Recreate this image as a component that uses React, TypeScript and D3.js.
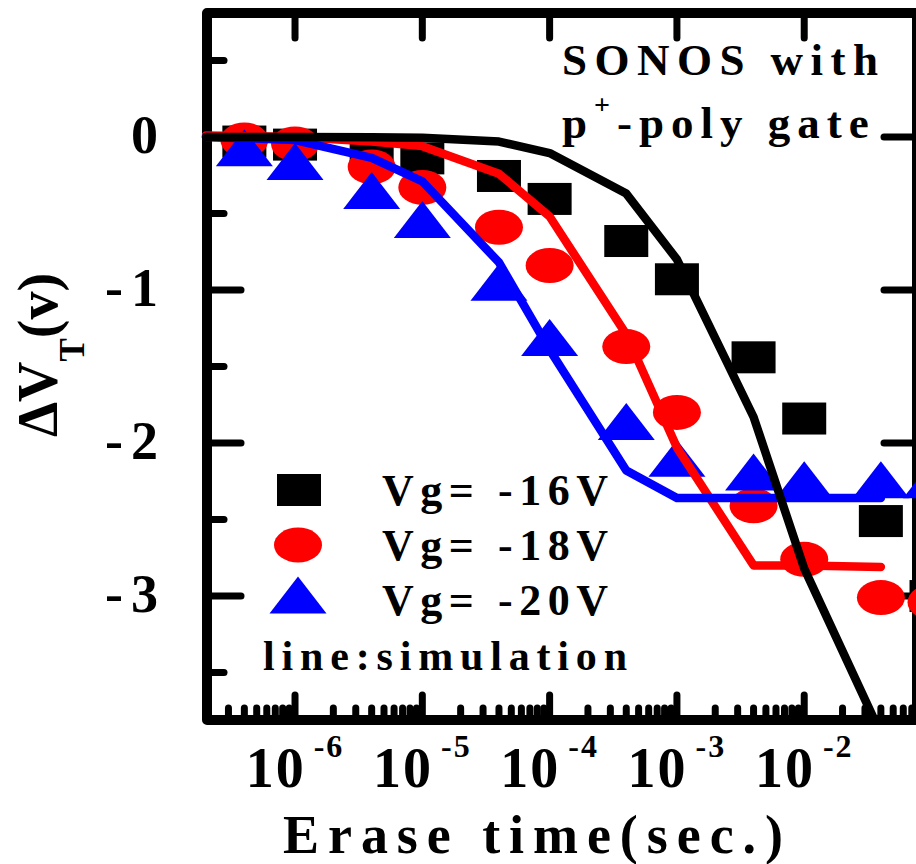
import { useEffect, useRef } from 'react';
import * as d3 from 'd3';

// erase time (s) of the measured points
const pointTimes = [4e-7, 1e-6, 4e-6, 1e-5, 4e-5, 1e-4, 4e-4, 1e-3, 4e-3, 1e-2, 4e-2, 1e-1];
// measured ΔVT (V)
const vg16Measured = [-0.03, -0.05, -0.12, -0.14, -0.255, -0.405, -0.68, -0.93, -1.44, -1.84, -2.51, -3.0];
const vg18Measured = [-0.02, -0.046, -0.196, -0.33, -0.59, -0.84, -1.37, -1.8, -2.41, -2.76, -3.01, -3.04];
const vg20Measured = [-0.07, -0.16, -0.35, -0.54, -0.95, -1.31, -1.86, -2.1, -2.19, -2.24, -2.24, -2.24];

// simulation curves
const simTimes = [2e-7, 1e-6, 4e-6, 1e-5, 4e-5, 1e-4, 4e-4, 1e-3, 4e-3, 1e-2, 4e-2];
const vg16Sim = [0, 0, -0.002, -0.005, -0.03, -0.105, -0.37, -0.8, -1.83, -2.82, -3.9];
const vg18Sim = [0.01, 0, -0.03, -0.06, -0.24, -0.52, -1.29, -2.03, -2.8, -2.8, -2.81];
const vg20Sim = [0, -0.02, -0.137, -0.29, -0.82, -1.39, -2.18, -2.36, -2.36, -2.36, -2.36];

const legendLabels = ['Vg= -16V', 'Vg= -18V', 'Vg= -20V'];

const xMajorTicks = [1e-6, 1e-5, 1e-4, 1e-3, 1e-2];
const xTickExponents = ['-6', '-5', '-4', '-3', '-2'];
const yMajorTicks = [0, -1, -2, -3];
const yMinorTicks = [0.5, -0.5, -1.5, -2.5, -3.5];

const X_DOMAIN: [number, number] = [2.035e-7, 7.69e-2];
const Y_DOMAIN: [number, number] = [-3.81, 0.81];

const W = 916;
const H = 864;
const PLOT = { left: 207, top: 13, right: 917, bottom: 720 };
const FONT = '"Liberation Serif", "Times New Roman", serif';

export default function App() {
  const svgRef = useRef<SVGSVGElement>(null);

  useEffect(() => {
    const svg = d3.select(svgRef.current);
    svg.selectAll('*').remove();

    const x = d3.scaleLog().domain(X_DOMAIN).range([PLOT.left, PLOT.right]);
    const y = d3.scaleLinear().domain(Y_DOMAIN).range([PLOT.bottom, PLOT.top]);

    svg.append('defs').append('clipPath').attr('id', 'plot-clip')
      .append('rect').attr('x', 0).attr('y', 0).attr('width', W).attr('height', PLOT.bottom - 5);

    // frame
    const axes = svg.append('g').attr('stroke', '#000').attr('stroke-linecap', 'round').attr('fill', 'none');
    axes.append('rect')
      .attr('x', PLOT.left).attr('y', PLOT.top)
      .attr('width', PLOT.right - PLOT.left).attr('height', PLOT.bottom - PLOT.top)
      .attr('stroke-width', 10).attr('stroke-linejoin', 'round');

    // bottom ticks: decades + 2..9
    const minorX: number[] = [];
    for (let e = -7; e <= -2; e++) {
      for (let m = 2; m <= 9; m++) {
        const v = m * 10 ** e;
        if (v > X_DOMAIN[0] * 1.02 && v < X_DOMAIN[1]) minorX.push(v);
      }
    }
    minorX.forEach(v => {
      axes.append('line').attr('x1', x(v)).attr('x2', x(v))
        .attr('y1', PLOT.bottom).attr('y2', PLOT.bottom - 12).attr('stroke-width', 7);
    });
    xMajorTicks.forEach(v => {
      axes.append('line').attr('x1', x(v)).attr('x2', x(v))
        .attr('y1', PLOT.bottom).attr('y2', PLOT.bottom - 25).attr('stroke-width', 7);
      axes.append('line').attr('x1', x(v)).attr('x2', x(v))
        .attr('y1', PLOT.top).attr('y2', PLOT.top + 25).attr('stroke-width', 7);
    });
    yMajorTicks.forEach(v => {
      axes.append('line').attr('y1', y(v)).attr('y2', y(v))
        .attr('x1', PLOT.left).attr('x2', PLOT.left + 34).attr('stroke-width', 7);
      axes.append('line').attr('y1', y(v)).attr('y2', y(v))
        .attr('x1', PLOT.right).attr('x2', PLOT.right - 33).attr('stroke-width', 7);
    });
    yMinorTicks.forEach(v => {
      axes.append('line').attr('y1', y(v)).attr('y2', y(v))
        .attr('x1', PLOT.left).attr('x2', PLOT.left + 17).attr('stroke-width', 7);
    });

    // tick labels
    const labels = svg.append('g').attr('font-family', FONT).attr('font-weight', 'bold').attr('fill', '#000');
    yMajorTicks.forEach(v => {
      labels.append('text')
        .attr('x', 166).attr('y', y(v) + 16)
        .attr('text-anchor', 'end').attr('font-size', 54).attr('letter-spacing', 8)
        .text(v === 0 ? '0' : `-${Math.abs(v)}`);
    });
    xMajorTicks.forEach((v, i) => {
      const t = labels.append('text')
        .attr('x', x(v)).attr('y', 787)
        .attr('text-anchor', 'middle').attr('font-size', 56).attr('letter-spacing', 2);
      t.append('tspan').text('10');
      t.append('tspan').attr('dx', 8).attr('dy', -30).attr('font-size', 32).text(xTickExponents[i]);
    });

    // axis titles
    labels.append('text')
      .attr('x', 533).attr('y', 853).attr('text-anchor', 'middle')
      .attr('font-size', 54).attr('textLength', 500).attr('lengthAdjust', 'spacing')
      .text('Erase time(sec.)');
    const yt = labels.append('text')
      .attr('transform', 'translate(57,355) rotate(-90)')
      .attr('text-anchor', 'middle').attr('font-size', 56);
    yt.append('tspan').text('ΔV');
    yt.append('tspan').attr('dy', 27).attr('font-size', 35).text('T');
    yt.append('tspan').attr('dy', -27).text('(v)');

    // measured markers
    const marks = svg.append('g');
    const SQ_W = 44, SQ_H = 32, EL_RX = 24, EL_RY = 17.5, TR_W = 57, TR_H = 37;
    const square = (g: any, cx: number, cy: number) =>
      g.append('rect').attr('x', cx - SQ_W / 2).attr('y', cy - SQ_H / 2)
        .attr('width', SQ_W).attr('height', SQ_H).attr('fill', '#000');
    const circle = (g: any, cx: number, cy: number) =>
      g.append('ellipse').attr('cx', cx).attr('cy', cy).attr('rx', EL_RX).attr('ry', EL_RY).attr('fill', '#ff0000');
    const triangle = (g: any, cx: number, cy: number) =>
      g.append('path')
        .attr('d', `M${cx},${cy - TR_H / 2}L${cx + TR_W / 2},${cy + TR_H / 2}L${cx - TR_W / 2},${cy + TR_H / 2}Z`)
        .attr('fill', '#0000ff');

    pointTimes.forEach((t, i) => square(marks, x(t), y(vg16Measured[i])));
    pointTimes.forEach((t, i) => circle(marks, x(t), y(vg18Measured[i])));
    pointTimes.forEach((t, i) => triangle(marks, x(t), y(vg20Measured[i])));

    // simulation lines
    const line = d3.line<number>().x((_, i) => x(simTimes[i])).y(d => y(d));
    const lines = svg.append('g').attr('clip-path', 'url(#plot-clip)').attr('fill', 'none')
      .attr('stroke-width', 8.5).attr('stroke-linejoin', 'round').attr('stroke-linecap', 'round');
    lines.append('path').attr('d', line(vg18Sim)).attr('stroke', '#ff0000');
    lines.append('path').attr('d', line(vg20Sim)).attr('stroke', '#0000ff');
    lines.append('path').attr('d', line(vg16Sim)).attr('stroke', '#000');

    // legend
    const legend = svg.append('g');
    square(legend, 299, 490);
    circle(legend, 298, 545);
    triangle(legend, 298, 595);
    legendLabels.forEach((s, i) => {
      labels.append('text')
        .attr('x', 382).attr('y', 505 + i * 55)
        .attr('font-size', 44).attr('textLength', 226).attr('lengthAdjust', 'spacing')
        .text(s);
    });
    labels.append('text')
      .attr('x', 263).attr('y', 670)
      .attr('font-size', 42).attr('textLength', 364).attr('lengthAdjust', 'spacing')
      .text('line:simulation');

    // annotation
    labels.append('text')
      .attr('x', 562).attr('y', 75)
      .attr('font-size', 45).attr('textLength', 316).attr('lengthAdjust', 'spacing')
      .text('SONOS with');
    const ann = labels.append('text')
      .attr('x', 562).attr('y', 138).attr('font-size', 45).attr('letter-spacing', 7);
    ann.append('tspan').text('p');
    ann.append('tspan').attr('dy', -24).attr('font-size', 28).text('+');
    ann.append('tspan').attr('dy', 24).text('-poly gate');
  }, []);

  return (
    <svg
      ref={svgRef}
      width={W}
      height={H}
      style={{ position: 'absolute', left: 0, top: 0, background: '#fff' }}
    />
  );
}
